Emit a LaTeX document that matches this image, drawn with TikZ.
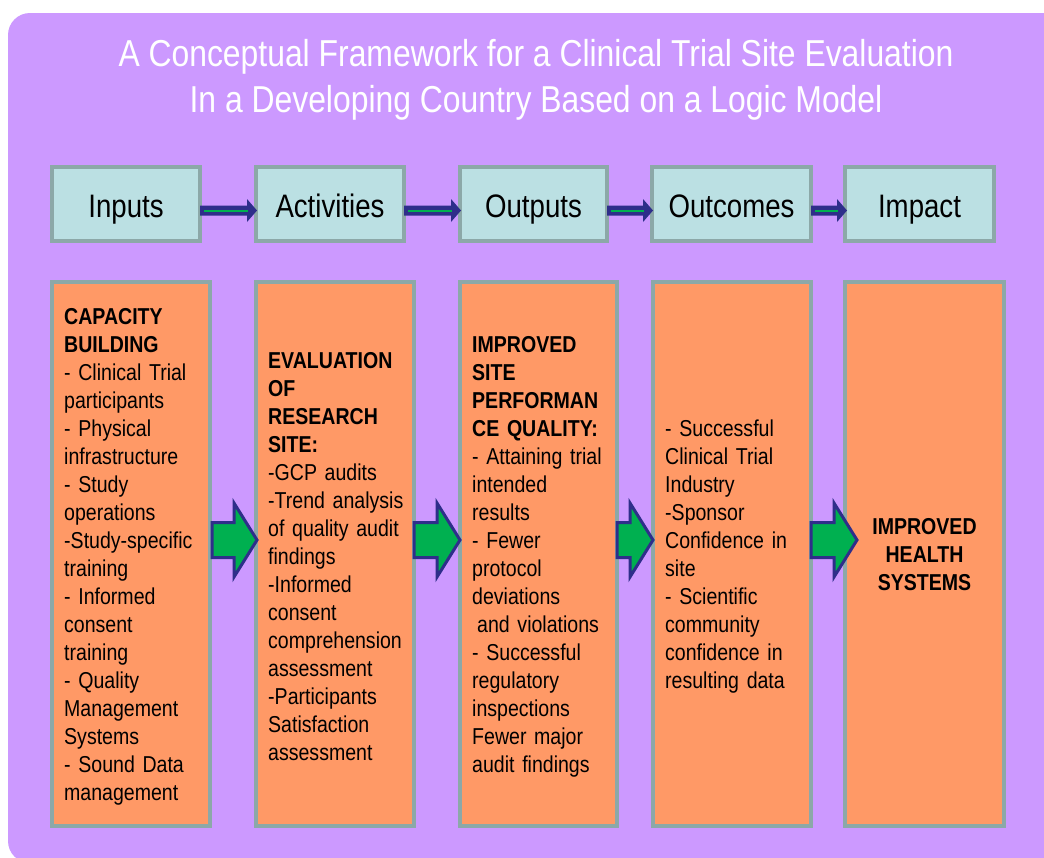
\documentclass[tikz,border=0pt]{standalone}
\usepackage{fontspec}
\setmainfont{Liberation Sans}[FakeStretch=0.85]
\usetikzlibrary{calc}

\definecolor{bgpurple}{HTML}{CC99FF}
\definecolor{hdrfill}{HTML}{BBE0E3}
\definecolor{edgegray}{HTML}{8CA8A8}
\definecolor{boxorange}{HTML}{FF9966}
\definecolor{arrowgreen}{HTML}{00B050}
\definecolor{navy}{HTML}{2E2E8A}

\tikzset{
  hdrbox/.style={draw=edgegray, fill=hdrfill, line width=4pt, inner sep=0pt,
    minimum height=74pt, text height=26pt, text depth=0pt,
    font=\fontsize{32.5}{38}\selectfont},
  colbox/.style={draw=edgegray, fill=boxorange, line width=4pt,
    minimum height=544pt, inner sep=0pt},
  coltext/.style={anchor=west, inner sep=0pt, text width=150pt, align=left,
    font=\fontsize{23}{28}\selectfont},
  titletext/.style={anchor=base, text=white, inner sep=0pt,
    font=\fontsize{37.5}{47}\selectfont},
  % thin block arrow between the header boxes
  harrow/.style={fill=navy, draw=none,
    to path={let \p1=(\tikztostart), \p2=(\tikztotarget) in
      (\x1,\y1+5) -- (\x2-10,\y1+5) -- (\x2-10,\y1+11.5) -- (\x2,\y1)
      -- (\x2-10,\y1-11.5) -- (\x2-10,\y1-5) -- (\x1,\y1-5) -- cycle}},
  hstripe/.style={draw=arrowgreen, line width=2pt,
    to path={let \p1=(\tikztostart), \p2=(\tikztotarget) in
      (\x1+4,\y1) -- (\x2-9,\y1)}},
  % wide green block arrow between the columns
  garrow/.style={fill=arrowgreen, draw=navy, line width=3pt, line join=miter,
    to path={let \p1=(\tikztostart), \p2=(\tikztotarget) in
      (\x1,\y1+17.5) -- (\x2-23,\y1+17.5) -- (\x2-23,\y1+37) -- (\x2,\y1)
      -- (\x2-23,\y1-37) -- (\x2-23,\y1-17.5) -- (\x1,\y1-17.5) -- cycle}},
}

\begin{document}
\begin{tikzpicture}[x=1pt,y=-1pt]
\useasboundingbox (0,0) rectangle (1044,857);
\clip (0,0) rectangle (1044,857);
\fill[white] (0,0) rectangle (1044,857);
\fill[bgpurple, rounded corners=22pt] (8,13) rectangle (1090,863);

% title
\node[titletext] (title1) at (536,66) {A Conceptual Framework for a Clinical Trial Site Evaluation};
\node[titletext] (title2) at (536,112) {In a Developing Country Based on a Logic Model};

% header row
\node[hdrbox, minimum width=148pt] (h1) at (126,204) {Inputs};
\node[hdrbox, minimum width=148pt] (h2) at (330,204) {Activities};
\node[hdrbox, minimum width=147pt] (h3) at (533.5,204) {Outputs};
\node[hdrbox, minimum width=159pt] (h4) at (731.5,204) {Outcomes};
\node[hdrbox, minimum width=149pt] (h5) at (919.5,204) {Impact};

% columns
\node[colbox, minimum width=158pt] (c1) at (131,554) {};
\node[colbox, minimum width=158pt] (c2) at (335,554) {};
\node[colbox, minimum width=157pt] (c3) at (538.5,554) {};
\node[colbox, minimum width=158pt] (c4) at (732,554) {};
\node[colbox, minimum width=159pt] (c5) at (924.5,554) {};

\node[coltext] (t1) at ($(c1.west)+(14,3)$) {%
\textbf{CAPACITY}\\ \textbf{BUILDING}\\ - Clinical Trial\\ participants\\
- Physical\\ infrastructure\\ - Study\\ operations\\ -Study-specific\\ training\\
- Informed\\ consent\\ training\\ - Quality\\ Management\\ Systems\\
- Sound Data\\ management};

\node[coltext] (t2) at ($(c2.west)+(14,3)$) {%
\textbf{EVALUATION}\\ \textbf{OF}\\ \textbf{RESEARCH}\\ \textbf{SITE:}\\
-GCP audits\\ -Trend analysis\\ of quality audit\\ findings\\ -Informed\\
consent\\ comprehension\\ assessment\\ -Participants\\ Satisfaction\\ assessment};

\node[coltext] (t3) at ($(c3.west)+(14,3)$) {%
\textbf{IMPROVED}\\ \textbf{SITE}\\ \textbf{PERFORMAN}\\ \textbf{CE QUALITY:}\\
- Attaining trial\\ intended\\ results\\ - Fewer\\ protocol\\ deviations\\
\hspace*{5pt}and violations\\ - Successful\\ regulatory\\ inspections\\
Fewer major\\ audit findings};

\node[coltext] (t4) at ($(c4.west)+(14,3)$) {%
- Successful\\ Clinical Trial\\ Industry\\ -Sponsor\\ Confidence in\\ site\\
- Scientific\\ community\\ confidence in\\ resulting data};

\node[coltext, anchor=center, align=center, text width=140pt] (t5) at ($(c5.center)+(0,1)$) {%
\textbf{IMPROVED}\\ \textbf{HEALTH}\\ \textbf{SYSTEMS}};

% header arrows
\coordinate (hs1) at ($(h1.east)+(-2,6.5)$);
\coordinate (he1) at ($(h2.west)+(3,6.5)$);
\coordinate (hs2) at ($(h2.east)+(-2,6.5)$);
\coordinate (he2) at ($(h3.west)+(3,6.5)$);
\coordinate (hs3) at ($(h3.east)+(-2,6.5)$);
\coordinate (he3) at ($(h4.west)+(3,6.5)$);
\coordinate (hs4) at ($(h4.east)+(-2,6.5)$);
\coordinate (he4) at ($(h5.west)+(4,6.5)$);
\foreach \i in {1,...,4}{
  \draw[harrow] (hs\i) to (he\i);
  \draw[hstripe] (hs\i) to (he\i);
}

% column arrows
\coordinate (gs1) at ($(c1.east)+(0,-14)$);
\coordinate (ge1) at ($(c2.west)+(3,-14)$);
\coordinate (gs2) at ($(c2.east)+(-2,-14)$);
\coordinate (ge2) at ($(c3.west)+(2,-14)$);
\coordinate (gs3) at ($(c3.east)+(-2,-14)$);
\coordinate (ge3) at ($(c4.west)+(2,-14)$);
\coordinate (gs4) at ($(c4.east)+(-2,-14)$);
\coordinate (ge4) at ($(c5.west)+(14,-14)$);
\foreach \i in {1,...,4}{
  \draw[garrow] (gs\i) to (ge\i);
}
\end{tikzpicture}
\end{document}
